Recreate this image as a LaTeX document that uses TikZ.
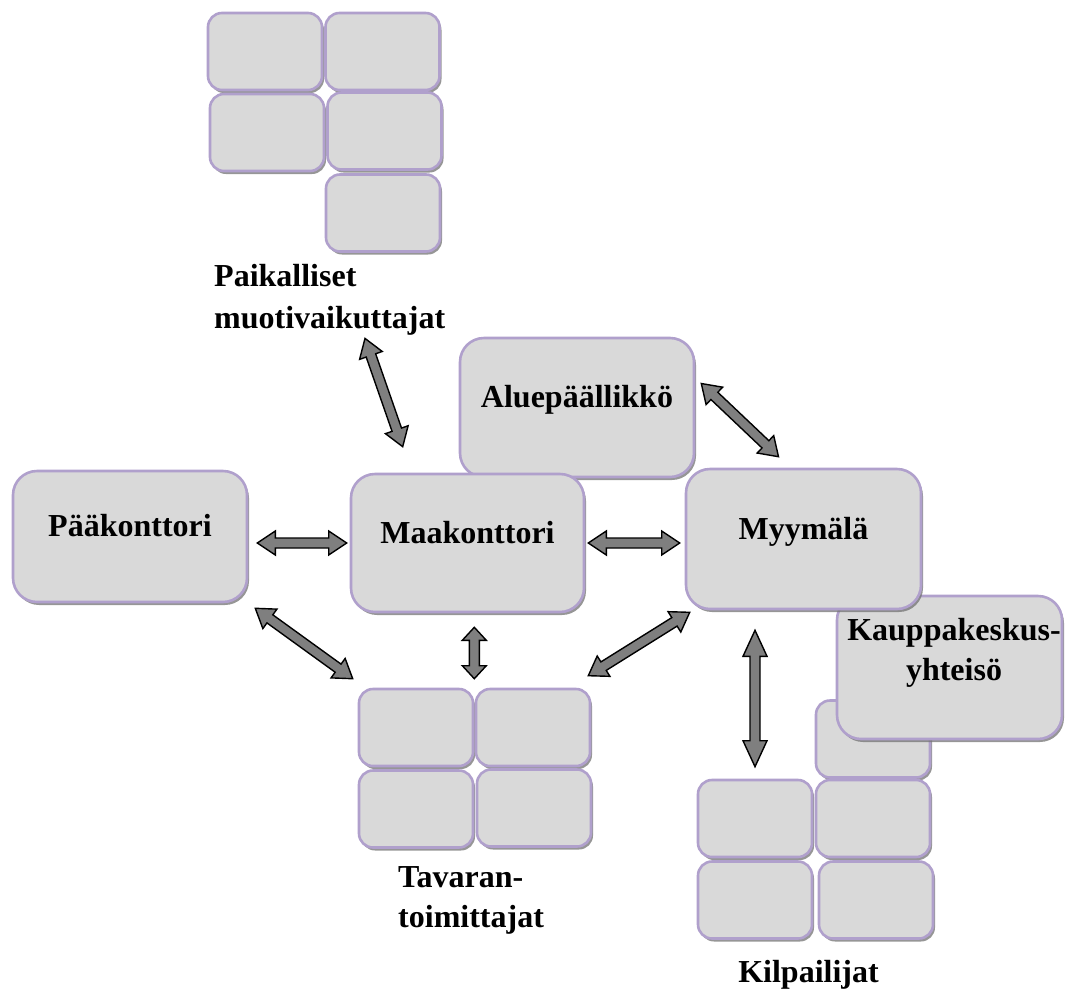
\documentclass[tikz,border=0pt]{standalone}
\usepackage{fontspec}
\setmainfont{Liberation Serif}
\usetikzlibrary{calc,shadows}
\definecolor{boxfill}{HTML}{D9D9D9}
\definecolor{boxline}{HTML}{B0A0CC}
\definecolor{arrowfill}{HTML}{7F7F7F}
\newcommand{\lblfont}{\fontsize{32}{40}\selectfont\bfseries}
\newcommand{\biarrow}[3][18pt]{%
  \path (#2) coordinate (ba) (#3) coordinate (bb);
  \draw[blockarrow] (ba)
    -- ($(ba)!#1!(bb)!12pt!90:(bb)$) -- ($(ba)!#1!(bb)!5pt!90:(bb)$)
    -- ($(bb)!#1!(ba)!5pt!-90:(ba)$) -- ($(bb)!#1!(ba)!12pt!-90:(ba)$)
    -- (bb)
    -- ($(bb)!#1!(ba)!12pt!90:(ba)$) -- ($(bb)!#1!(ba)!5pt!90:(ba)$)
    -- ($(ba)!#1!(bb)!5pt!-90:(bb)$) -- ($(ba)!#1!(bb)!12pt!-90:(bb)$)
    -- cycle;}

\begin{document}
\begin{tikzpicture}[x=1pt,y=-1pt,
    box/.style={draw=boxline,fill=boxfill,line width=2.6pt,rounded corners=24pt,
      minimum width=234pt,minimum height=138pt,font=\lblfont,
      text height=12pt,text depth=12pt,
      drop shadow={shadow xshift=2pt,shadow yshift=-3pt,fill=black!55,opacity=.75}},
    tile/.style={box,rounded corners=14pt,minimum width=114pt,minimum height=77pt},
    lbl/.style={font=\lblfont,inner sep=0pt},
    blockarrow/.style={draw=black,fill=arrowfill,line width=1.4pt,line join=miter}]
  \useasboundingbox (0,0) rectangle (1065,988);
  \node[tile] (pm1) at (265,51.5) {};
  \node[tile] (pm2) at (382.5,51.5) {};
  \node[tile] (pm3) at (267,132.5) {};
  \node[tile] (pm4) at (384.5,131) {};
  \node[tile] (pm5) at (383,213) {};
  \node[tile] (tv1) at (416,727.5) {};
  \node[tile] (tv2) at (533,727.5) {};
  \node[tile] (tv3) at (416,809) {};
  \node[tile] (tv4) at (534,808) {};
  \node[tile] (kp1) at (873,739) {};
  \node[tile] (kp2) at (755,818.5) {};
  \node[tile] (kp3) at (873,818.5) {};
  \node[tile] (kp4) at (755,900) {};
  \node[tile] (kp5) at (876,900) {};
  \node[box,minimum width=225pt,minimum height=143pt] (kk) at (949.5,667.5) {};
  \node[box,minimum height=139pt] (ap) at (577,407.5) {Aluepäällikkö};
  \node[box,minimum height=131pt] (pk) at (130,536.5) {Pääkonttori};
  \node[box,minimum width=233pt] (mk) at (467.5,543) {Maakonttori};
  \node[box,minimum width=235pt,minimum height=140pt] (my) at (803.5,539) {Myymälä};
  \node[lbl,align=center,anchor=north] (kkl) at (954,618) {Kauppakeskus-\\yhteisö};
  \node[lbl,align=left,anchor=north west,font=\fontsize{32}{42}\selectfont\bfseries] (pl) at (214,264) {Paikalliset\\muotivaikuttajat};
  \node[lbl,align=left,anchor=north west] (tvl) at (398,866) {Tavaran-\\toimittajat};
  \node[lbl,anchor=base] (kpl) at (808.5,982) {Kilpailijat};
  \biarrow{$(pk.east |- mk.west)+(9,0)$}{$(mk.west)+(-3,0)$}
  \biarrow{$(mk.east)+(3,0)$}{$(my.west |- mk.east)+(-5,0)$}
  \biarrow{$(pl.south west)+(151,3)$}{$(mk.north west)+(53,-26)$}
  \biarrow{$(ap.east)+(6,-24)$}{$(my.north)+(-25,-11)$}
  \biarrow{$(pk.south east)+(7,5)$}{$(tv1.north west)+(-5,-9)$}
  \biarrow[13pt]{$(mk.south -| tv1.north east)+(0,14)$}{$(tv1.north east)+(0,-9)$}
  \biarrow{$(tv2.north east)+(-3,-12)$}{$(my.south west)+(5,2)$}
  \biarrow[26pt]{$(my.south -| kp2.north)+(0,20)$}{$(kp2.north)+(0,-12)$}
\end{tikzpicture}
\end{document}
